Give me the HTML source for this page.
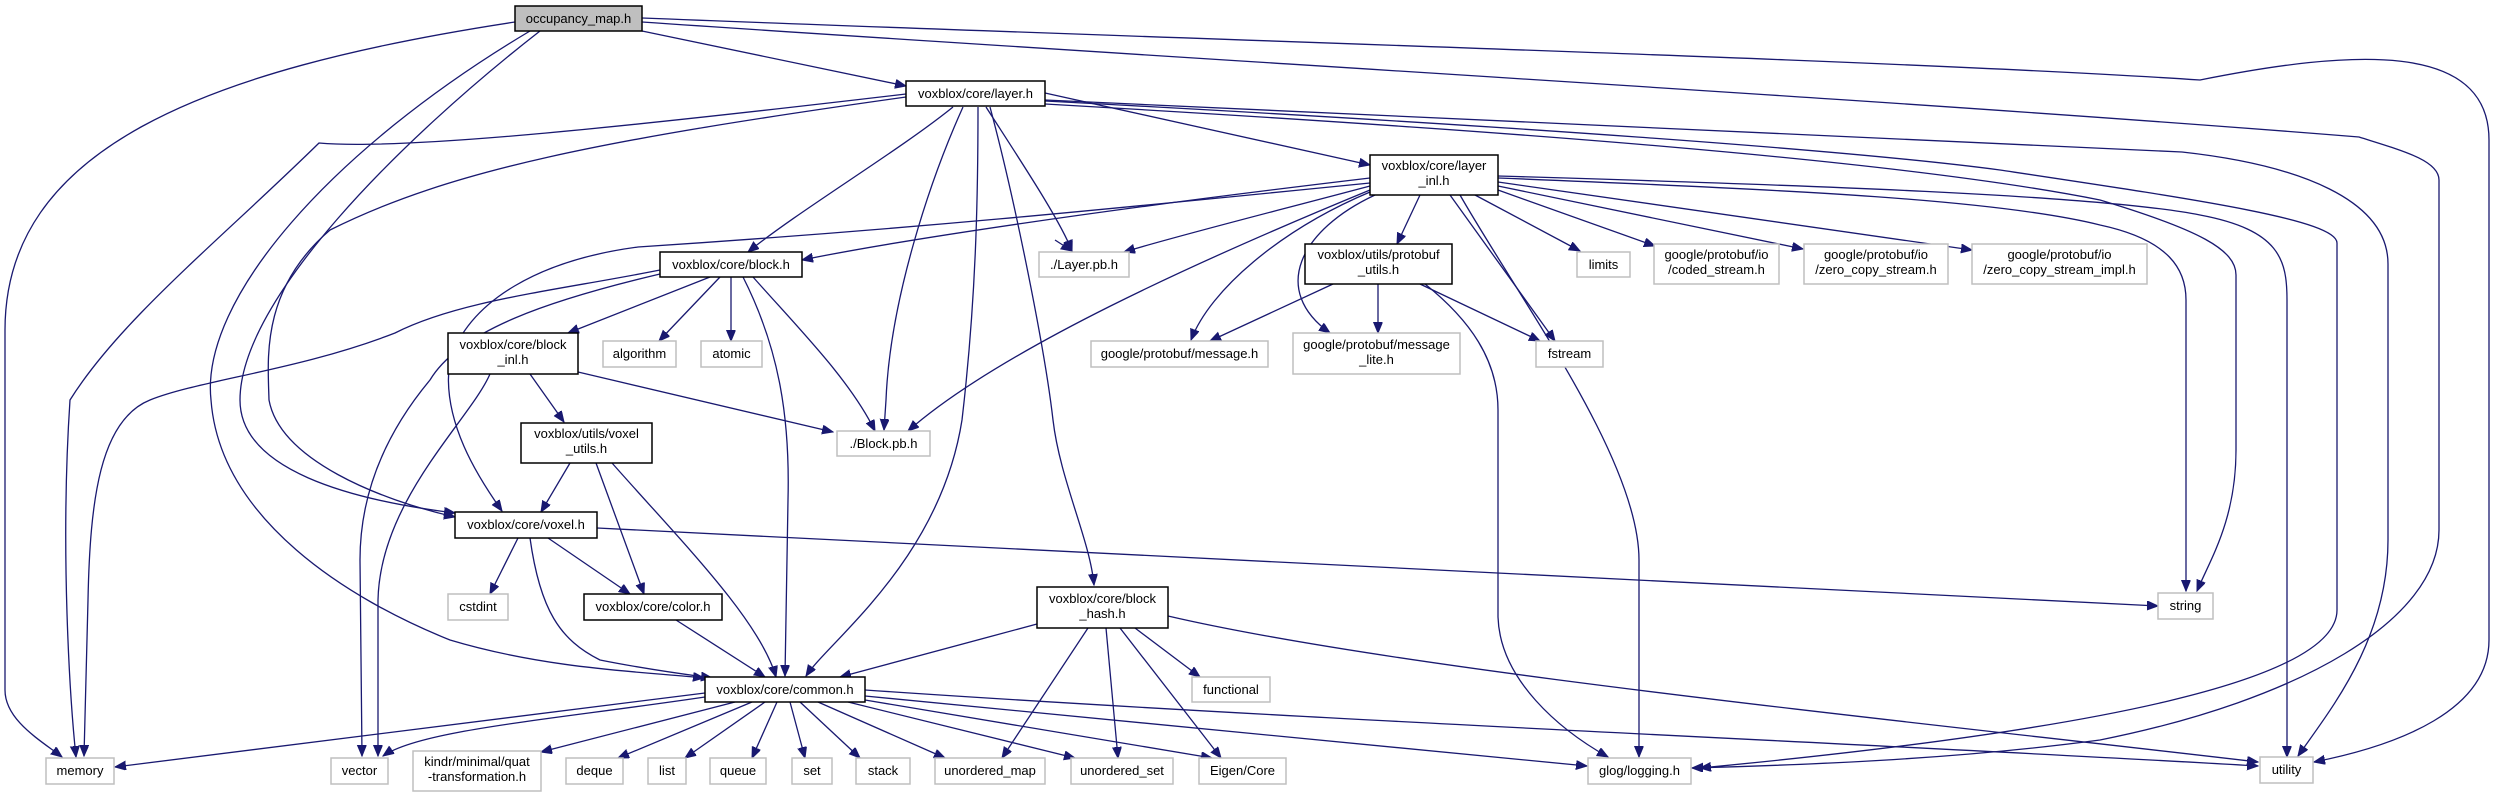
<!DOCTYPE html>
<html><head><meta charset="utf-8"><style>
html,body{margin:0;padding:0;background:#fff;}
svg{display:block;}
text{font-family:"Liberation Sans",sans-serif;font-size:13px;fill:#000;}
.e{fill:none;stroke:#191970;stroke-width:1.3;}
.n{fill:#fff;stroke:#000;stroke-width:1.5;}
.g{fill:#fff;stroke:#bfbfbf;stroke-width:1.5;}
</style></head><body>
<svg width="2495" height="797" viewBox="0 0 2495 797" xmlns="http://www.w3.org/2000/svg">
<defs><marker id="a" markerUnits="userSpaceOnUse" markerWidth="12" markerHeight="10" refX="11" refY="4.5" orient="auto"><path d="M0,0 L11,4.5 L0,9 Z" fill="#191970" stroke="#191970"/></marker></defs>
<g class="e" marker-end="url(#a)">
<!-- occupancy -->
<path d="M642,31 L906,86"/>
<path d="M515,22 C200,70 5,150 5,330 L5,690 C5,720 40,740 62,757"/>
<path d="M530,31 C330,150 200,300 211,400 C220,520 350,600 450,640 C550,670 650,672 704,678"/>
<path d="M540,31 C400,140 240,300 240,400 C240,470 350,500 455,513"/>
<path d="M642,18 C1200,40 1900,60 2200,80 C2350,50 2489,40 2489,140 L2489,640 C2489,710 2400,745 2314,762"/>
<path d="M642,22 C1200,60 1900,100 2359,137 C2400,150 2439,160 2439,180 L2439,530 C2439,620 2300,700 2100,740 C1950,760 1800,765 1692,768"/>
<!-- layer.h -->
<path d="M1045,93 L1370,165"/>
<path d="M953,107 C900,150 800,210 748,252"/>
<path d="M1055,240 L1072,251" />
<path d="M986,107 C1020,160 1060,220 1072,251"/>
<path d="M963,107 C930,180 890,300 886,400 L884,430"/>
<path d="M978,107 C978,200 976,300 962,420 C940,560 830,640 806,676"/>
<path d="M990,107 C1015,200 1045,350 1053,420 C1060,480 1090,540 1094,585"/>
<path d="M906,94 C600,130 400,150 319,143 C220,240 120,320 70,400 C60,550 70,700 76,757"/>
<path d="M906,97 C600,140 450,170 330,230 C260,290 268,360 269,400 C280,460 380,500 455,517"/>
<path d="M1045,100 C1500,120 1900,140 2182,152 C2300,165 2388,200 2388,264 L2388,540 C2388,640 2330,710 2298,756"/>
<path d="M1045,101 C1500,125 1850,150 2000,170 C2200,200 2337,220 2337,243 L2337,610 C2337,680 2100,730 1700,768"/>
<path d="M1045,104 C1500,130 1900,160 2100,200 C2200,230 2236,250 2236,275 L2236,450 C2236,520 2210,560 2197,591"/>
<!-- layer_inl -->
<path d="M1370,178 C1100,210 900,240 802,260"/>
<path d="M1370,186 C1280,210 1180,235 1124,252"/>
<path d="M1420,195 L1397,244"/>
<path d="M1370,192 C1280,230 1210,290 1191,340"/>
<path d="M1375,195 C1300,230 1270,290 1330,333"/>
<path d="M1370,190 C1200,260 1000,350 908,431"/>
<path d="M1370,183 C1100,210 900,230 638,247 C540,260 470,300 450,360 C440,420 480,480 502,511"/>
<path d="M1450,195 L1555,341"/>
<path d="M1460,195 C1520,300 1639,460 1639,560 L1639,757"/>
<path d="M1475,195 L1580,251"/>
<path d="M1498,190 L1655,246"/>
<path d="M1498,186 L1803,249"/>
<path d="M1498,182 L1972,250"/>
<path d="M1498,178 C1800,190 2000,200 2100,225 C2170,240 2186,270 2186,300 L2186,591"/>
<path d="M1498,176 C1800,185 2100,195 2200,215 C2280,230 2287,260 2287,300 L2287,757"/>
<!-- protobuf utils -->
<path d="M1333,284 L1210,341"/>
<path d="M1378,284 L1378,333"/>
<path d="M1420,284 L1540,341"/>
<path d="M1425,284 C1470,320 1498,360 1498,410 L1498,617 C1500,680 1560,730 1608,757"/>
<!-- block.h -->
<path d="M710,277 L568,333"/>
<path d="M720,277 L659,341"/>
<path d="M731,277 L731,341"/>
<path d="M660,270 C560,290 460,300 395,333 C300,370 200,380 150,400 C100,420 90,500 88,600 L84,756"/>
<path d="M660,274 C550,300 460,330 430,380 C380,440 360,500 360,560 L362,756"/>
<path d="M743,277 C780,350 790,420 788,500 L785,676"/>
<path d="M753,277 C800,330 850,380 875,431"/>
<!-- block_inl -->
<path d="M490,374 C470,420 380,500 378,600 L378,756"/>
<path d="M530,374 L564,422"/>
<path d="M578,372 L833,432"/>
<!-- voxel_utils -->
<path d="M570,463 L541,512"/>
<path d="M596,463 L644,594"/>
<path d="M612,463 C680,540 760,620 776,677"/>
<!-- voxel.h -->
<path d="M518,538 L490,594"/>
<path d="M548,538 L630,594"/>
<path d="M530,538 C540,610 560,640 600,660 C650,670 690,675 712,678"/>
<path d="M597,528 L2158,606"/>
<!-- color -->
<path d="M676,620 L765,677"/>
<!-- block hash -->
<path d="M1037,624 L840,677"/>
<path d="M1135,628 L1200,677"/>
<path d="M1088,628 L1002,758"/>
<path d="M1106,628 L1118,758"/>
<path d="M1120,628 L1221,758"/>
<path d="M1168,616 C1400,670 1900,720 2258,762"/>
<!-- common -->
<path d="M705,693 L115,767"/>
<path d="M705,697 C550,720 420,730 383,756"/>
<path d="M735,702 L541,752"/>
<path d="M752,702 L618,758"/>
<path d="M765,702 L685,758"/>
<path d="M777,702 L752,758"/>
<path d="M790,702 L805,758"/>
<path d="M800,702 L860,758"/>
<path d="M818,702 L945,758"/>
<path d="M848,702 L1075,758"/>
<path d="M865,700 L1212,758"/>
<path d="M865,696 L1587,766"/>
<path d="M865,690 C1300,720 1900,745 2258,766"/>
</g>
<!-- nodes -->
<rect x="515" y="6" width="127" height="25" fill="#bfbfbf" stroke="#000" stroke-width="1.5"/><text x="578.5" y="23" text-anchor="middle">occupancy_map.h</text>
<rect class="n" x="906" y="81" width="139" height="25"/><text x="975.5" y="98" text-anchor="middle">voxblox/core/layer.h</text>
<rect class="n" x="1370" y="155" width="128" height="40"/><text x="1434" y="170" text-anchor="middle">voxblox/core/layer</text><text x="1434" y="185" text-anchor="middle">_inl.h</text>
<rect class="n" x="660" y="252" width="142" height="25"/><text x="731" y="269" text-anchor="middle">voxblox/core/block.h</text>
<rect class="g" x="1039" y="252" width="90" height="25"/><text x="1084" y="269" text-anchor="middle">./Layer.pb.h</text>
<rect class="n" x="1305" y="244" width="147" height="40"/><text x="1378.5" y="259" text-anchor="middle">voxblox/utils/protobuf</text><text x="1378.5" y="274" text-anchor="middle">_utils.h</text>
<rect class="g" x="1577" y="252" width="53" height="25"/><text x="1603.5" y="269" text-anchor="middle">limits</text>
<rect class="g" x="1654" y="244" width="125" height="40"/><text x="1716.5" y="259" text-anchor="middle">google/protobuf/io</text><text x="1716.5" y="274" text-anchor="middle">/coded_stream.h</text>
<rect class="g" x="1804" y="244" width="144" height="40"/><text x="1876" y="259" text-anchor="middle">google/protobuf/io</text><text x="1876" y="274" text-anchor="middle">/zero_copy_stream.h</text>
<rect class="g" x="1972" y="244" width="175" height="40"/><text x="2059.5" y="259" text-anchor="middle">google/protobuf/io</text><text x="2059.5" y="274" text-anchor="middle">/zero_copy_stream_impl.h</text>
<rect class="n" x="448" y="333" width="130" height="41"/><text x="513" y="349" text-anchor="middle">voxblox/core/block</text><text x="513" y="364" text-anchor="middle">_inl.h</text>
<rect class="g" x="603" y="341" width="73" height="26"/><text x="639.5" y="358" text-anchor="middle">algorithm</text>
<rect class="g" x="701" y="341" width="61" height="26"/><text x="731.5" y="358" text-anchor="middle">atomic</text>
<rect class="g" x="1091" y="341" width="177" height="26"/><text x="1179.5" y="358" text-anchor="middle">google/protobuf/message.h</text>
<rect class="g" x="1293" y="333" width="167" height="41"/><text x="1376.5" y="349" text-anchor="middle">google/protobuf/message</text><text x="1376.5" y="364" text-anchor="middle">_lite.h</text>
<rect class="g" x="1536" y="341" width="67" height="26"/><text x="1569.5" y="358" text-anchor="middle">fstream</text>
<rect class="n" x="521" y="423" width="131" height="40"/><text x="586.5" y="438" text-anchor="middle">voxblox/utils/voxel</text><text x="586.5" y="453" text-anchor="middle">_utils.h</text>
<rect class="g" x="837" y="431" width="93" height="25"/><text x="883.5" y="448" text-anchor="middle">./Block.pb.h</text>
<rect class="n" x="455" y="512" width="142" height="26"/><text x="526" y="529" text-anchor="middle">voxblox/core/voxel.h</text>
<rect class="g" x="448" y="594" width="60" height="26"/><text x="478" y="611" text-anchor="middle">cstdint</text>
<rect class="n" x="584" y="594" width="138" height="26"/><text x="653" y="611" text-anchor="middle">voxblox/core/color.h</text>
<rect class="n" x="1037" y="587" width="131" height="41"/><text x="1102.5" y="603" text-anchor="middle">voxblox/core/block</text><text x="1102.5" y="618" text-anchor="middle">_hash.h</text>
<rect class="g" x="2158" y="593" width="55" height="26"/><text x="2185.5" y="610" text-anchor="middle">string</text>
<rect class="n" x="705" y="677" width="160" height="25"/><text x="785" y="694" text-anchor="middle">voxblox/core/common.h</text>
<rect class="g" x="1192" y="677" width="78" height="25"/><text x="1231" y="694" text-anchor="middle">functional</text>
<rect class="g" x="46" y="758" width="68" height="26"/><text x="80" y="775" text-anchor="middle">memory</text>
<rect class="g" x="331" y="758" width="57" height="26"/><text x="359.5" y="775" text-anchor="middle">vector</text>
<rect class="g" x="413" y="751" width="128" height="40"/><text x="477" y="766" text-anchor="middle">kindr/minimal/quat</text><text x="477" y="781" text-anchor="middle">-transformation.h</text>
<rect class="g" x="566" y="758" width="57" height="26"/><text x="594.5" y="775" text-anchor="middle">deque</text>
<rect class="g" x="648" y="758" width="38" height="26"/><text x="667" y="775" text-anchor="middle">list</text>
<rect class="g" x="710" y="758" width="56" height="26"/><text x="738" y="775" text-anchor="middle">queue</text>
<rect class="g" x="792" y="758" width="40" height="26"/><text x="812" y="775" text-anchor="middle">set</text>
<rect class="g" x="856" y="758" width="54" height="26"/><text x="883" y="775" text-anchor="middle">stack</text>
<rect class="g" x="935" y="758" width="110" height="26"/><text x="990" y="775" text-anchor="middle">unordered_map</text>
<rect class="g" x="1071" y="758" width="102" height="26"/><text x="1122" y="775" text-anchor="middle">unordered_set</text>
<rect class="g" x="1199" y="758" width="87" height="26"/><text x="1242.5" y="775" text-anchor="middle">Eigen/Core</text>
<rect class="g" x="1588" y="758" width="103" height="26"/><text x="1639.5" y="775" text-anchor="middle">glog/logging.h</text>
<rect class="g" x="2260" y="757" width="53" height="26"/><text x="2286.5" y="774" text-anchor="middle">utility</text>
</svg>
</body></html>
